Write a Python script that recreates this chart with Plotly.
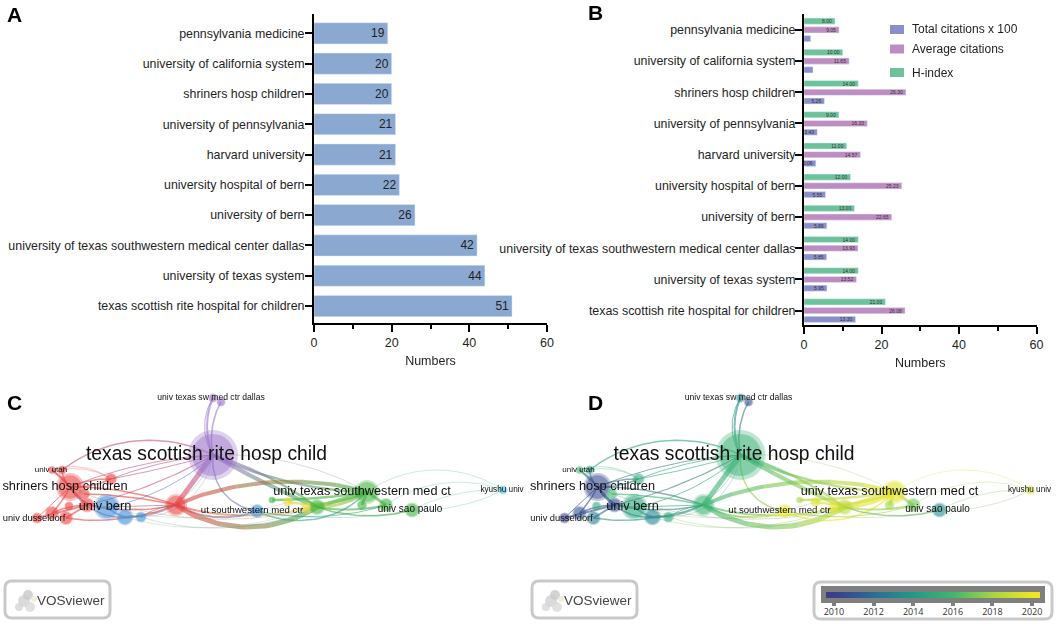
import plotly.graph_objects as go
from plotly.colors import sample_colorscale

W, H = 1056, 624

# ---------- bar chart data ----------
institutions = ["texas scottish rite hospital for children", "university of texas system",
                "university of texas southwestern medical center dallas", "university of bern",
                "university hospital of bern", "harvard university", "university of pennsylvania",
                "shriners hosp children", "university of california system", "pennsylvania medicine"]
numbers = [51, 44, 42, 26, 22, 21, 21, 20, 20, 19]
total_citations = [13.30, 5.95, 5.85, 5.89, 5.55, 3.06, 3.43, 5.26, 2.33, 1.72]
total_labels = ["13.30", "5.95", "5.85", "5.89", "5.55", "3.06", "3.43", "5.26", "", ""]
average_citations = [26.08, 13.52, 13.93, 22.65, 25.23, 14.57, 16.33, 26.30, 11.65, 9.05]
h_index = [21, 14, 14, 13, 12, 11, 9, 14, 10, 8]
x_ticks = [0, 20, 40, 60]

# ---------- network data (map coordinates of the VOSviewer layout) ----------
node_x = [213, 213, 221, 52, 62, 111, 70, 84, 87, 69, 37, 52, 66, 107, 125, 141, 176, 257, 288, 307, 272, 317, 367, 362, 386, 412, 503]
node_y = [455, 398, 402, 470, 470, 479, 487, 494, 505, 506, 518, 513, 518, 507, 517, 517, 505, 511, 502, 508, 500, 507, 492, 505, 505, 510, 490]
node_d = [50, 9, 9, 8, 9, 12, 28, 12, 15, 9, 11, 14, 14, 26, 17, 11, 22, 14, 10, 12, 7, 16, 24, 10, 14, 15, 9]
node_cluster = ["purple", "purple", "purple", "red", "red", "red", "red", "red", "red", "red", "red", "red", "red",
                "blue", "blue", "blue", "red", "blue", "yellow", "yellow", "green", "green", "green", "green", "green", "green", "cyan"]
node_year = [2015.4, 2012.6, 2010.5, 2016, 2014.6, 2015, 2010.4, 2016, 2010.6, 2015, 2010, 2011, 2012.6,
             2014.8, 2013, 2014.6, 2015.6, 2020, 2019.5, 2019.6, 2018, 2018.6, 2019.6, 2018, 2017, 2013.4, 2019.2]
cluster_color = {"red": "#e8423f", "green": "#3fb23f", "blue": "#3f8fd8", "yellow": "#e8d83c",
                 "purple": "#9a6fc8", "cyan": "#3cc4df"}

label_text = ["texas scottish rite hosp child", "univ texas sw med ctr dallas", "univ utah", "shriners hosp children",
              "univ dusseldorf", "univ bern", "ut southwestern med ctr", "univ texas southwestern med ct",
              "univ sao paulo", "kyushu univ"]
label_x = [206.5, 211, 51, 65, 34, 105, 252, 362, 410, 502]
label_y = [455, 398, 470, 487, 519, 507, 511, 492, 509, 490]
label_size = [19.3, 8.6, 8, 12.8, 9.3, 12.8, 9.6, 12.7, 10, 8.2]

edge_source = [1, 2, 1, 4, 3, 4, 3, 5, 6, 5, 5, 8, 13, 14, 15, 6, 7, 8, 12, 13, 14, 15, 16, 0, 0, 0, 0, 0, 16, 16, 16, 16, 15, 14, 13, 6,
               17, 21, 20, 19, 18, 21, 22, 21, 22, 22, 24, 25, 25, 17, 17, 6, 6, 6, 11, 10, 12, 6, 6, 5, 3, 4, 13, 14]
edge_target = [0, 0, 0, 0, 5, 5, 6, 6, 0, 0, 0, 0, 0, 0, 0, 16, 16, 16, 16, 16, 16, 16, 0, 17, 21, 21, 22, 22, 22, 21, 19, 17, 21, 19, 18, 21,
               22, 22, 22, 22, 22, 24, 24, 25, 23, 26, 26, 26, 26, 25, 24, 8, 10, 11, 8, 8, 8, 13, 14, 6, 6, 6, 14, 15]
edge_width = [2, 1.5, 1, 1.5, 0.8, 0.8, 1.5, 1.5, 1, 1, 1, 1.2, 1, 0.7, 0.7, 1.5, 1.5, 1.5, 1.5, 1.2, 1, 1, 5, 1.5, 4, 2.5, 2.5, 0.7, 4, 5, 2, 2, 0.7, 0.7, 0.7, 0.7,
              1.5, 4, 2.5, 3, 2.5, 2, 3, 1.5, 3, 0.7, 0.7, 0.7, 0.7, 0.7, 1, 1.5, 1, 1.5, 1.5, 2, 2, 1.5, 1.5, 1.5, 1.5, 1.5, 2, 1.5]
edge_bow = [-10, -8, -14, 36, 12, 8, 0, -4, 10, 6, -2, -8, -14, -30, -30, 8, 4, -8, -12, 0, -6, 4, 0, -25, -3, 8, -14, 18, 27, -35, -15, -15, -26, -25, -22, -35,
            -30, 0, -3, -8, -10, -6, 0, -12, 0, 35, 24, -10, 10, -12, -14, 0, 0, 2, 3, 0, 0, -10, -15, 4, 2, -3, -2, 2]

years = [2010, 2012, 2014, 2016, 2018, 2020]
year_scale = [[0, "#3a3f8c"], [0.2, "#2a6e96"], [0.4, "#1f9a8a"], [0.6, "#3fb86b"], [0.8, "#a5d544"], [1, "#f0e51f"]]

# ---------- legend of panel B ----------
legend_names = ["Total citations x 100", "Average citations", "H-index"]

# ---------- colours ----------
BAR_BLUE = "#8aa8d0"
C_TOTAL, C_AVG, C_H = "#8a8fcb", "#bd8cc2", "#6cc39b"
INK = "#1f1f1f"


def px(x):
    return x / W


def py(y):
    return 1 - y / H


def hex_rgb(c):
    if c.startswith("rgb"):
        return tuple(int(float(v)) for v in c[c.index("(") + 1:-1].split(","))
    return tuple(int(c[i:i + 2], 16) for i in (1, 3, 5))


def mix(a, b, t):
    ra, rb = hex_rgb(a), hex_rgb(b)
    return tuple(round(ra[i] + (rb[i] - ra[i]) * t) for i in range(3))


def year_color(y):
    return sample_colorscale(year_scale, [(y - 2010) / 10])[0]


def curve(s, t, bow, n=24):
    x0, y0, x1, y1 = node_x[s], node_y[s], node_x[t], node_y[t]
    L = max(((x1 - x0) ** 2 + (y1 - y0) ** 2) ** 0.5, 1)
    nx, ny = (y1 - y0) / L, -(x1 - x0) / L
    k = 0.8
    cx0, cy0 = x0 + (x1 - x0) * 0.3 + nx * bow * k, y0 + (y1 - y0) * 0.3 + ny * bow * k
    cx1, cy1 = x0 + (x1 - x0) * 0.7 + nx * bow * k, y0 + (y1 - y0) * 0.7 + ny * bow * k
    xs, ys = [], []
    for i in range(n + 1):
        u = i / n
        v = 1 - u
        xs.append(v ** 3 * x0 + 3 * v * v * u * cx0 + 3 * v * u * u * cx1 + u ** 3 * x1)
        ys.append(v ** 3 * y0 + 3 * v * v * u * cy0 + 3 * v * u * u * cy1 + u ** 3 * y1)
    return xs, ys


fig = go.Figure()

# ---------- panel A ----------
fig.add_trace(go.Bar(y=institutions, x=numbers, orientation="h", marker=dict(color=BAR_BLUE), width=0.7,
                     text=numbers, textposition="inside", insidetextanchor="end", textangle=0, constraintext="none",
                     insidetextfont=dict(size=12, color=INK, family="Liberation Sans"),
                     xaxis="x", yaxis="y", showlegend=False))

# ---------- panel B ----------
for name, vals, col, labels in [(legend_names[0], total_citations, C_TOTAL, total_labels),
                                (legend_names[1], average_citations, C_AVG, [f"{v:.2f}" for v in average_citations]),
                                (legend_names[2], h_index, C_H, [f"{v:.2f}" for v in h_index])]:
    fig.add_trace(go.Bar(y=institutions, x=vals, orientation="h", name=name, marker=dict(color=col), showlegend=False,
                         text=labels, textposition="inside", insidetextanchor="end", textangle=0, constraintext="none",
                         insidetextfont=dict(size=5, color="#333333", family="Liberation Sans"),
                         xaxis="x2", yaxis="y2"))


# ---------- panels C and D ----------
def network(xa, ya, by_year):
    for s, t, w, b in zip(edge_source, edge_target, edge_width, edge_bow):
        if by_year:
            ca, cb = year_color(node_year[s]), year_color(node_year[t])
        else:
            ca, cb = cluster_color[node_cluster[s]], cluster_color[node_cluster[t]]
        xs, ys = curve(s, t, b)
        pieces = 6 if w >= 2 else 1
        step = len(xs) // pieces
        for k in range(pieces):
            sx, sy = xs[k * step:(k + 1) * step + 1], ys[k * step:(k + 1) * step + 1]
            if k == pieces - 1:
                sx, sy = xs[k * step:], ys[k * step:]
            r, g, bl = mix(ca, cb, (k + 0.5) / pieces)
            alpha = 0.6 if w >= 1 else 0.4
            fig.add_trace(go.Scatter(x=sx, y=sy, mode="lines", xaxis=xa, yaxis=ya, showlegend=False, hoverinfo="skip",
                                     line=dict(color=f"rgba({r},{g},{bl},{alpha})", width=w)))
    colors = [year_color(y) if by_year else cluster_color[c] for y, c in zip(node_year, node_cluster)]
    fig.add_trace(go.Scatter(x=node_x, y=node_y, mode="markers", xaxis=xa, yaxis=ya, showlegend=False,
                             hoverinfo="skip", opacity=0.45,
                             marker=dict(size=node_d, color=colors, line=dict(width=0))))
    fig.add_trace(go.Scatter(x=node_x, y=node_y, mode="markers", xaxis=xa, yaxis=ya, showlegend=False,
                             hoverinfo="skip", opacity=0.6,
                             marker=dict(size=[d * 0.84 for d in node_d], color=colors, line=dict(width=0))))
    fig.add_trace(go.Scatter(x=label_x, y=label_y, text=label_text, mode="text", xaxis=xa, yaxis=ya, showlegend=False,
                             textposition="middle center", hoverinfo="skip",
                             textfont=dict(size=label_size, color="#111111", family="Liberation Sans")))


network("x3", "y3", False)
network("x4", "y4", True)

# ---------- year scale of panel D ----------
fig.add_trace(go.Heatmap(z=[years], x=years, y=[0], zmin=2010, zmax=2020, colorscale=year_scale, zsmooth="best",
                         showscale=False, hoverinfo="skip", xaxis="x5", yaxis="y5"))


# ---------- boxes ----------
def rounded(x0, y0, x1, y1, r):
    X = lambda v: px(v)
    Y = lambda v: py(v)
    return (f"M{X(x0 + r)},{Y(y0)} L{X(x1 - r)},{Y(y0)} Q{X(x1)},{Y(y0)} {X(x1)},{Y(y0 + r)} "
            f"L{X(x1)},{Y(y1 - r)} Q{X(x1)},{Y(y1)} {X(x1 - r)},{Y(y1)} L{X(x0 + r)},{Y(y1)} "
            f"Q{X(x0)},{Y(y1)} {X(x0)},{Y(y1 - r)} L{X(x0)},{Y(y0 + r)} Q{X(x0)},{Y(y0)} {X(x0 + r)},{Y(y0)} Z")


shapes = []
annotations = []


def vos_box(x0):
    shapes.append(dict(type="path", xref="paper", yref="paper", path=rounded(x0, 581, x0 + 105, 618, 7),
                       line=dict(color="#c9c9c9", width=3), fillcolor="white", layer="below"))
    for dx, dy, r, col in [(14, 607, 4, "#d9d9d9"), (19, 601, 6, "#d3d3d3"), (23, 595, 5, "#cbcbcb"),
                           (25, 607, 5, "#dcdcdc"), (29, 599, 3, "#f2ead0")]:
        shapes.append(dict(type="circle", xref="paper", yref="paper", x0=px(x0 + dx - r), x1=px(x0 + dx + r),
                           y0=py(dy + r), y1=py(dy - r), fillcolor=col, line=dict(width=0), opacity=0.85))
    annotations.append(dict(text="VOSviewer", x=px(x0 + 30), y=py(600), xref="paper", yref="paper", xanchor="left",
                            yanchor="middle", showarrow=False, font=dict(size=13.5, color="#444444", family="Liberation Sans")))


vos_box(5)
vos_box(532)

shapes.append(dict(type="path", xref="paper", yref="paper", path=rounded(814, 582, 1052, 619, 7),
                   line=dict(color="#c9c9c9", width=3), fillcolor="white", layer="below"))
shapes.append(dict(type="rect", xref="paper", yref="paper", x0=px(821), x1=px(1045), y0=py(603), y1=py(586),
                   fillcolor="#7f7f7f", line=dict(width=0), layer="below"))

for letter, x, y in [("A", 5, 14), ("B", 586, 12), ("C", 5, 402), ("D", 586, 402)]:
    annotations.append(dict(text=f"<b>{letter}</b>", x=px(x), y=py(y), xref="paper", yref="paper", xanchor="left",
                            yanchor="middle", showarrow=False, font=dict(size=21, color="black", family="Liberation Sans")))

# hand-placed legend of panel B, with its uneven spacing
for name, col, y in zip(legend_names, [C_TOTAL, C_AVG, C_H], [29.5, 49, 72.5]):
    shapes.append(dict(type="rect", xref="paper", yref="paper", x0=px(890), x1=px(904), y0=py(y + 4.5), y1=py(y - 4.5),
                       fillcolor=col, line=dict(width=0)))
    annotations.append(dict(text=name, x=px(910), y=py(y), xref="paper", yref="paper", xanchor="left", yanchor="middle",
                            showarrow=False, font=dict(size=12, color=INK, family="Liberation Sans")))

TICK = dict(size=12.5, color=INK, family="Liberation Sans")


def value_axis(x0, x1, anchor):
    return dict(domain=[px(x0), px(x1)], range=[0, 60], anchor=anchor, tickvals=x_ticks, ticks="outside", ticklen=7,
                tickwidth=2, tickcolor="black", linecolor="black", linewidth=2, showline=True, showgrid=False,
                zeroline=False, tickfont=TICK, automargin=False,
                minor=dict(tickvals=[10, 30, 50], ticks="outside", ticklen=4, tickwidth=2, tickcolor="black"),
                title=dict(text="Numbers", font=TICK, standoff=7))


def cat_axis(y0, y1, rng, anchor, standoff):
    return dict(domain=[py(y1), py(y0)], range=rng, anchor=anchor, type="category", categoryorder="array",
                categoryarray=institutions, ticks="outside", ticklen=7, tickwidth=2, tickcolor="black",
                linecolor="black", linewidth=2, showline=True, showgrid=False, zeroline=False, automargin=False,
                tickfont=dict(size=12.4, color=INK, family="Liberation Sans"), ticklabelstandoff=standoff)


def map_axis(x=None, y=None):
    if x:
        return dict(domain=[px(x[0]), px(x[1])], range=[0, x[1] - x[0]], visible=False, fixedrange=True, automargin=False)
    return dict(domain=[py(y[1]), py(y[0])], range=[y[1], y[0]], visible=False, fixedrange=True, automargin=False)


fig.update_layout(
    width=W, height=H, margin=dict(l=0, r=0, t=0, b=0), paper_bgcolor="white", plot_bgcolor="white",
    barmode="group", bargap=0.16, bargroupgap=0.3, showlegend=False,
    shapes=shapes, annotations=annotations,
    xaxis=value_axis(314, 547, "y"), yaxis=cat_axis(14, 323, [-0.56, 9.64], "x", -2),
    xaxis2=value_axis(804, 1036.5, "y2"), yaxis2=cat_axis(14, 325, [-0.46, 9.51], "x2", -3),
    xaxis3=map_axis(x=(0, 527)), yaxis3=dict(map_axis(y=(385, 560)), anchor="x3"),
    xaxis4=map_axis(x=(527.5, 1054.5)), yaxis4=dict(map_axis(y=(385, 560)), anchor="x4"),
    xaxis5=dict(domain=[px(826), px(1040)], range=[2009.6, 2020.4], anchor="y5", tickvals=years, ticks="outside",
                ticklen=7, tickwidth=4, tickcolor="#7f7f7f", showline=False, showgrid=False, zeroline=False,
                automargin=False, ticklabelstandoff=-2, tickfont=dict(size=9, color="#333333", family="Open Sans")),
    yaxis5=dict(domain=[py(598), py(592)], anchor="x5", visible=False, fixedrange=True, automargin=False),
)
fig.update_layout(xaxis3=dict(anchor="y3"), xaxis4=dict(anchor="y4"))

fig.write_html("out.html", post_script="document.body.style.margin='0';", config={"displayModeBar": False})
